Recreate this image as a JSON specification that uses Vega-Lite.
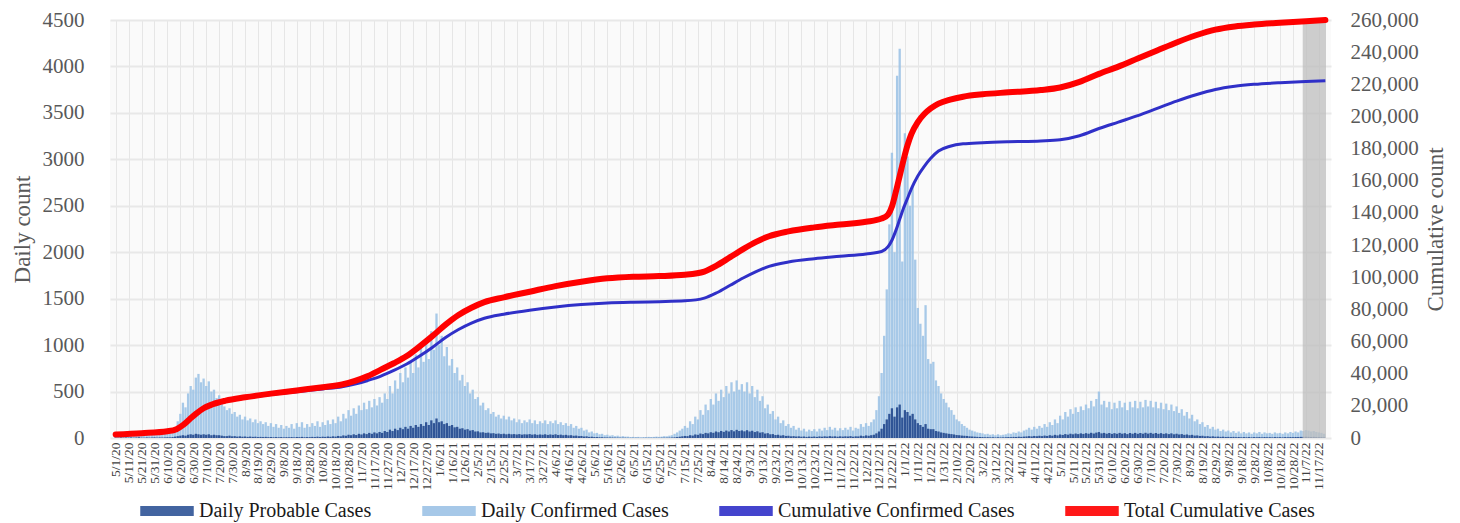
{
"$schema": "https://vega.github.io/schema/vega-lite/v6.json",
"width": 1221, "height": 418,
"autosize": {"type": "none"},
"padding": {"left": 110, "top": 20, "right": 129, "bottom": 85},
"background": "white",
"config": {"view": {"stroke": null, "fill": "#fafafa"}, "font": "Liberation Serif"},
"datasets": {
"daily": [
{"i":0,"c":30,"p":4},{"i":2,"c":25,"p":3},{"i":4,"c":40,"p":6},{"i":6,"c":20,"p":3},{"i":8,"c":35,"p":5},{"i":10,"c":30,"p":4},{"i":12,"c":45,"p":6},{"i":14,"c":25,"p":3},{"i":16,"c":30,"p":5},{"i":18,"c":55,"p":8},
{"i":20,"c":30,"p":4},{"i":22,"c":25,"p":3},{"i":24,"c":40,"p":6},{"i":26,"c":30,"p":4},{"i":28,"c":35,"p":5},{"i":30,"c":50,"p":7},{"i":32,"c":30,"p":4},{"i":34,"c":40,"p":6},{"i":36,"c":35,"p":5},{"i":38,"c":45,"p":6},
{"i":40,"c":60,"p":8},{"i":42,"c":50,"p":7},{"i":44,"c":70,"p":10},{"i":46,"c":110,"p":15},{"i":48,"c":180,"p":20},{"i":50,"c":260,"p":25},{"i":52,"c":380,"p":30},{"i":54,"c":330,"p":25},{"i":56,"c":480,"p":35},{"i":58,"c":560,"p":40},
{"i":60,"c":520,"p":35},{"i":62,"c":650,"p":45},{"i":64,"c":690,"p":40},{"i":66,"c":600,"p":35},{"i":68,"c":640,"p":40},{"i":70,"c":560,"p":35},{"i":72,"c":610,"p":40},{"i":74,"c":500,"p":30},{"i":76,"c":520,"p":35},{"i":78,"c":430,"p":30},
{"i":80,"c":460,"p":30},{"i":82,"c":380,"p":25},{"i":84,"c":340,"p":20},{"i":86,"c":300,"p":20},{"i":88,"c":320,"p":25},{"i":90,"c":260,"p":18},{"i":92,"c":280,"p":20},{"i":94,"c":230,"p":15},{"i":96,"c":250,"p":18},{"i":98,"c":200,"p":14},
{"i":100,"c":230,"p":16},{"i":102,"c":190,"p":12},{"i":104,"c":210,"p":15},{"i":106,"c":170,"p":12},{"i":108,"c":200,"p":14},{"i":110,"c":160,"p":10},{"i":112,"c":180,"p":12},{"i":114,"c":150,"p":10},{"i":116,"c":170,"p":12},{"i":118,"c":130,"p":9},
{"i":120,"c":160,"p":11},{"i":122,"c":120,"p":8},{"i":124,"c":150,"p":10},{"i":126,"c":110,"p":8},{"i":128,"c":140,"p":10},{"i":130,"c":100,"p":7},{"i":132,"c":130,"p":9},{"i":134,"c":110,"p":8},{"i":136,"c":150,"p":10},{"i":138,"c":100,"p":7},
{"i":140,"c":160,"p":11},{"i":142,"c":120,"p":9},{"i":144,"c":170,"p":12},{"i":146,"c":110,"p":8},{"i":148,"c":150,"p":10},{"i":150,"c":120,"p":9},{"i":152,"c":160,"p":12},{"i":154,"c":130,"p":10},{"i":156,"c":180,"p":14},{"i":158,"c":120,"p":10},
{"i":160,"c":170,"p":14},{"i":162,"c":140,"p":12},{"i":164,"c":190,"p":16},{"i":166,"c":150,"p":13},{"i":168,"c":200,"p":18},{"i":170,"c":160,"p":15},{"i":172,"c":230,"p":22},{"i":174,"c":180,"p":18},{"i":176,"c":260,"p":28},{"i":178,"c":210,"p":24},
{"i":180,"c":300,"p":35},{"i":182,"c":240,"p":30},{"i":184,"c":320,"p":40},{"i":186,"c":260,"p":32},{"i":188,"c":350,"p":45},{"i":190,"c":300,"p":38},{"i":192,"c":380,"p":50},{"i":194,"c":310,"p":42},{"i":196,"c":400,"p":55},{"i":198,"c":330,"p":45},
{"i":200,"c":420,"p":60},{"i":202,"c":350,"p":50},{"i":204,"c":440,"p":65},{"i":206,"c":380,"p":55},{"i":208,"c":480,"p":75},{"i":210,"c":420,"p":65},{"i":212,"c":560,"p":90},{"i":214,"c":480,"p":75},{"i":216,"c":620,"p":100},{"i":218,"c":530,"p":85},
{"i":220,"c":700,"p":110},{"i":222,"c":600,"p":95},{"i":224,"c":760,"p":120},{"i":226,"c":650,"p":100},{"i":228,"c":820,"p":130},{"i":230,"c":700,"p":110},{"i":232,"c":900,"p":140},{"i":234,"c":760,"p":120},{"i":236,"c":980,"p":150},{"i":238,"c":820,"p":130},
{"i":240,"c":1050,"p":170},{"i":242,"c":850,"p":140},{"i":244,"c":1150,"p":190},{"i":246,"c":950,"p":160},{"i":248,"c":1340,"p":210},{"i":250,"c":1000,"p":170},{"i":252,"c":1100,"p":180},{"i":254,"c":880,"p":150},{"i":256,"c":980,"p":160},{"i":258,"c":780,"p":130},
{"i":260,"c":850,"p":140},{"i":262,"c":700,"p":115},{"i":264,"c":760,"p":120},{"i":266,"c":620,"p":100},{"i":268,"c":680,"p":105},{"i":270,"c":560,"p":90},{"i":272,"c":600,"p":95},{"i":274,"c":480,"p":80},{"i":276,"c":520,"p":85},{"i":278,"c":420,"p":70},
{"i":280,"c":440,"p":72},{"i":282,"c":350,"p":60},{"i":284,"c":380,"p":62},{"i":286,"c":300,"p":55},{"i":288,"c":320,"p":58},{"i":290,"c":260,"p":50},{"i":292,"c":280,"p":52},{"i":294,"c":230,"p":45},{"i":296,"c":250,"p":48},{"i":298,"c":210,"p":42},
{"i":300,"c":240,"p":46},{"i":302,"c":200,"p":40},{"i":304,"c":230,"p":45},{"i":306,"c":190,"p":40},{"i":308,"c":210,"p":42},{"i":310,"c":170,"p":38},{"i":312,"c":200,"p":42},{"i":314,"c":160,"p":36},{"i":316,"c":190,"p":40},{"i":318,"c":170,"p":38},
{"i":320,"c":200,"p":42},{"i":322,"c":160,"p":36},{"i":324,"c":190,"p":40},{"i":326,"c":150,"p":34},{"i":328,"c":180,"p":38},{"i":330,"c":160,"p":35},{"i":332,"c":190,"p":40},{"i":334,"c":150,"p":33},{"i":336,"c":180,"p":38},{"i":338,"c":160,"p":34},
{"i":340,"c":190,"p":40},{"i":342,"c":150,"p":32},{"i":344,"c":170,"p":36},{"i":346,"c":140,"p":30},{"i":348,"c":160,"p":34},{"i":350,"c":130,"p":28},{"i":352,"c":150,"p":30},{"i":354,"c":110,"p":24},{"i":356,"c":130,"p":26},{"i":358,"c":100,"p":20},
{"i":360,"c":110,"p":22},{"i":362,"c":80,"p":16},{"i":364,"c":90,"p":18},{"i":366,"c":60,"p":12},{"i":368,"c":70,"p":14},{"i":370,"c":50,"p":10},{"i":372,"c":55,"p":10},{"i":374,"c":40,"p":8},{"i":376,"c":45,"p":8},{"i":378,"c":30,"p":6},
{"i":380,"c":35,"p":6},{"i":382,"c":25,"p":5},{"i":384,"c":30,"p":5},{"i":386,"c":20,"p":4},{"i":388,"c":25,"p":4},{"i":390,"c":15,"p":3},{"i":392,"c":20,"p":3},{"i":394,"c":15,"p":3},{"i":396,"c":15,"p":2},{"i":398,"c":10,"p":2},
{"i":400,"c":12,"p":2},{"i":402,"c":10,"p":2},{"i":404,"c":12,"p":2},{"i":406,"c":8,"p":1},{"i":408,"c":10,"p":2},{"i":410,"c":10,"p":2},{"i":412,"c":12,"p":2},{"i":414,"c":10,"p":2},{"i":416,"c":12,"p":2},{"i":418,"c":15,"p":3},
{"i":420,"c":12,"p":2},{"i":422,"c":15,"p":3},{"i":424,"c":20,"p":3},{"i":426,"c":18,"p":3},{"i":428,"c":25,"p":4},{"i":430,"c":30,"p":5},{"i":432,"c":45,"p":7},{"i":434,"c":60,"p":10},{"i":436,"c":80,"p":14},{"i":438,"c":100,"p":18},
{"i":440,"c":130,"p":22},{"i":442,"c":110,"p":20},{"i":444,"c":180,"p":30},{"i":446,"c":150,"p":26},{"i":448,"c":230,"p":38},{"i":450,"c":200,"p":34},{"i":452,"c":300,"p":48},{"i":454,"c":250,"p":42},{"i":456,"c":360,"p":55},{"i":458,"c":300,"p":50},
{"i":460,"c":420,"p":62},{"i":462,"c":360,"p":56},{"i":464,"c":480,"p":70},{"i":466,"c":400,"p":62},{"i":468,"c":520,"p":76},{"i":470,"c":440,"p":66},{"i":472,"c":560,"p":80},{"i":474,"c":480,"p":70},{"i":476,"c":600,"p":85},{"i":478,"c":500,"p":72},
{"i":480,"c":620,"p":88},{"i":482,"c":520,"p":75},{"i":484,"c":580,"p":82},{"i":486,"c":500,"p":72},{"i":488,"c":600,"p":84},{"i":490,"c":480,"p":70},{"i":492,"c":560,"p":78},{"i":494,"c":440,"p":64},{"i":496,"c":520,"p":72},{"i":498,"c":400,"p":58},
{"i":500,"c":450,"p":62},{"i":502,"c":320,"p":48},{"i":504,"c":360,"p":52},{"i":506,"c":260,"p":40},{"i":508,"c":290,"p":42},{"i":510,"c":200,"p":32},{"i":512,"c":230,"p":35},{"i":514,"c":160,"p":26},{"i":516,"c":190,"p":30},{"i":518,"c":130,"p":22},
{"i":520,"c":150,"p":24},{"i":522,"c":110,"p":18},{"i":524,"c":130,"p":20},{"i":526,"c":90,"p":16},{"i":528,"c":110,"p":18},{"i":530,"c":80,"p":14},{"i":532,"c":100,"p":16},{"i":534,"c":70,"p":12},{"i":536,"c":90,"p":15},{"i":538,"c":75,"p":13},
{"i":540,"c":95,"p":16},{"i":542,"c":70,"p":12},{"i":544,"c":100,"p":17},{"i":546,"c":80,"p":14},{"i":548,"c":110,"p":18},{"i":550,"c":85,"p":15},{"i":552,"c":120,"p":20},{"i":554,"c":90,"p":16},{"i":556,"c":110,"p":18},{"i":558,"c":80,"p":14},
{"i":560,"c":105,"p":18},{"i":562,"c":85,"p":15},{"i":564,"c":110,"p":18},{"i":566,"c":90,"p":16},{"i":568,"c":120,"p":20},{"i":570,"c":80,"p":14},{"i":572,"c":110,"p":18},{"i":574,"c":100,"p":17},{"i":576,"c":150,"p":25},{"i":578,"c":120,"p":20},
{"i":580,"c":160,"p":28},{"i":582,"c":130,"p":24},{"i":584,"c":170,"p":30},{"i":586,"c":200,"p":35},{"i":588,"c":300,"p":50},{"i":590,"c":450,"p":70},{"i":592,"c":700,"p":100},{"i":594,"c":1100,"p":150},{"i":596,"c":1600,"p":200},{"i":598,"c":2300,"p":260},
{"i":600,"c":3070,"p":320},{"i":602,"c":2000,"p":230},{"i":604,"c":3900,"p":330},{"i":606,"c":4190,"p":360},{"i":608,"c":1900,"p":220},{"i":610,"c":3280,"p":300},{"i":612,"c":3030,"p":280},{"i":614,"c":2500,"p":240},{"i":616,"c":2700,"p":260},{"i":618,"c":1920,"p":200},
{"i":620,"c":1400,"p":160},{"i":622,"c":1230,"p":140},{"i":624,"c":1100,"p":120},{"i":626,"c":1430,"p":150},{"i":628,"c":850,"p":100},{"i":630,"c":800,"p":95},{"i":632,"c":820,"p":95},{"i":634,"c":620,"p":75},{"i":636,"c":560,"p":70},{"i":638,"c":480,"p":60},
{"i":640,"c":420,"p":55},{"i":642,"c":380,"p":50},{"i":644,"c":330,"p":45},{"i":646,"c":300,"p":42},{"i":648,"c":250,"p":38},{"i":650,"c":200,"p":32},{"i":652,"c":180,"p":30},{"i":654,"c":150,"p":26},{"i":656,"c":130,"p":24},{"i":658,"c":110,"p":22},
{"i":660,"c":90,"p":18},{"i":662,"c":80,"p":16},{"i":664,"c":70,"p":14},{"i":666,"c":60,"p":12},{"i":668,"c":55,"p":11},{"i":670,"c":50,"p":10},{"i":672,"c":40,"p":8},{"i":674,"c":45,"p":9},{"i":676,"c":35,"p":7},{"i":678,"c":40,"p":8},
{"i":680,"c":30,"p":6},{"i":682,"c":40,"p":8},{"i":684,"c":30,"p":6},{"i":686,"c":35,"p":7},{"i":688,"c":40,"p":8},{"i":690,"c":50,"p":10},{"i":692,"c":45,"p":9},{"i":694,"c":60,"p":12},{"i":696,"c":55,"p":11},{"i":698,"c":70,"p":14},
{"i":700,"c":60,"p":12},{"i":702,"c":80,"p":15},{"i":704,"c":90,"p":17},{"i":706,"c":110,"p":20},{"i":708,"c":90,"p":17},{"i":710,"c":120,"p":22},{"i":712,"c":100,"p":19},{"i":714,"c":130,"p":24},{"i":716,"c":110,"p":20},{"i":718,"c":150,"p":26},
{"i":720,"c":120,"p":22},{"i":722,"c":170,"p":30},{"i":724,"c":140,"p":25},{"i":726,"c":200,"p":34},{"i":728,"c":160,"p":28},{"i":730,"c":240,"p":38},{"i":732,"c":200,"p":33},{"i":734,"c":280,"p":42},{"i":736,"c":230,"p":36},{"i":738,"c":310,"p":46},
{"i":740,"c":260,"p":40},{"i":742,"c":330,"p":48},{"i":744,"c":280,"p":42},{"i":746,"c":340,"p":50},{"i":748,"c":300,"p":44},{"i":750,"c":360,"p":52},{"i":752,"c":320,"p":46},{"i":754,"c":400,"p":56},{"i":756,"c":340,"p":48},{"i":758,"c":420,"p":58},
{"i":760,"c":500,"p":64},{"i":762,"c":360,"p":50},{"i":764,"c":400,"p":55},{"i":766,"c":330,"p":46},{"i":768,"c":390,"p":54},{"i":770,"c":310,"p":44},{"i":772,"c":380,"p":52},{"i":774,"c":320,"p":45},{"i":776,"c":400,"p":55},{"i":778,"c":330,"p":46},
{"i":780,"c":380,"p":52},{"i":782,"c":300,"p":42},{"i":784,"c":390,"p":54},{"i":786,"c":330,"p":46},{"i":788,"c":400,"p":55},{"i":790,"c":320,"p":45},{"i":792,"c":390,"p":54},{"i":794,"c":330,"p":46},{"i":796,"c":410,"p":56},{"i":798,"c":340,"p":47},
{"i":800,"c":400,"p":55},{"i":802,"c":330,"p":46},{"i":804,"c":390,"p":54},{"i":806,"c":320,"p":45},{"i":808,"c":380,"p":52},{"i":810,"c":310,"p":44},{"i":812,"c":370,"p":50},{"i":814,"c":300,"p":42},{"i":816,"c":360,"p":50},{"i":818,"c":290,"p":40},
{"i":820,"c":340,"p":46},{"i":822,"c":270,"p":38},{"i":824,"c":310,"p":42},{"i":826,"c":240,"p":34},{"i":828,"c":280,"p":38},{"i":830,"c":210,"p":30},{"i":832,"c":250,"p":34},{"i":834,"c":180,"p":26},{"i":836,"c":200,"p":28},{"i":838,"c":150,"p":22},
{"i":840,"c":170,"p":24},{"i":842,"c":120,"p":18},{"i":844,"c":140,"p":20},{"i":846,"c":100,"p":15},{"i":848,"c":120,"p":18},{"i":850,"c":90,"p":14},{"i":852,"c":100,"p":15},{"i":854,"c":75,"p":12},{"i":856,"c":90,"p":14},{"i":858,"c":70,"p":11},
{"i":860,"c":80,"p":12},{"i":862,"c":60,"p":10},{"i":864,"c":75,"p":12},{"i":866,"c":55,"p":9},{"i":868,"c":70,"p":11},{"i":870,"c":50,"p":8},{"i":872,"c":65,"p":10},{"i":874,"c":50,"p":8},{"i":876,"c":60,"p":10},{"i":878,"c":45,"p":7},
{"i":880,"c":60,"p":10},{"i":882,"c":50,"p":8},{"i":884,"c":65,"p":10},{"i":886,"c":45,"p":7},{"i":888,"c":60,"p":10},{"i":890,"c":50,"p":8},{"i":892,"c":55,"p":9},{"i":894,"c":45,"p":7},{"i":896,"c":60,"p":10},{"i":898,"c":50,"p":8},
{"i":900,"c":55,"p":9},{"i":902,"c":45,"p":7},{"i":904,"c":60,"p":10},{"i":906,"c":50,"p":8},{"i":908,"c":65,"p":10},{"i":910,"c":55,"p":9},{"i":912,"c":70,"p":11},{"i":914,"c":60,"p":10},{"i":916,"c":80,"p":12},{"i":918,"c":75,"p":12},
{"i":920,"c":85,"p":13},{"i":922,"c":80,"p":12},{"i":924,"c":70,"p":11},{"i":926,"c":75,"p":12},{"i":928,"c":65,"p":10},{"i":930,"c":60,"p":9},{"i":932,"c":55,"p":9},{"i":934,"c":45,"p":7}
],
"cum": [
{"i":0,"cc":2200,"tc":2200},{"i":20,"cc":3000,"tc":3000},{"i":40,"cc":4100,"tc":4200},{"i":47,"cc":5300,"tc":5500},{"i":52,"cc":7800,"tc":8000},{"i":57,"cc":11200,"tc":11500},{"i":62,"cc":14600,"tc":15000},{"i":68,"cc":18000,"tc":18500},{"i":75,"cc":20500,"tc":21000},{"i":85,"cc":22700,"tc":23200},
{"i":100,"cc":24800,"tc":25300},{"i":120,"cc":27000,"tc":27600},{"i":140,"cc":28800,"tc":29600},{"i":160,"cc":30500,"tc":31600},{"i":175,"cc":31800,"tc":33300},{"i":185,"cc":33500,"tc":35500},{"i":195,"cc":35800,"tc":38500},{"i":205,"cc":38500,"tc":42500},{"i":215,"cc":42000,"tc":46500},{"i":225,"cc":46000,"tc":51000},
{"i":235,"cc":51000,"tc":57000},{"i":245,"cc":56500,"tc":63500},{"i":255,"cc":62500,"tc":70500},{"i":265,"cc":67500,"tc":76500},{"i":275,"cc":71500,"tc":81000},{"i":285,"cc":74500,"tc":84500},{"i":300,"cc":77000,"tc":87500},{"i":320,"cc":79500,"tc":91000},{"i":340,"cc":81500,"tc":94500},{"i":360,"cc":83000,"tc":97200},
{"i":380,"cc":84000,"tc":99300},{"i":400,"cc":84500,"tc":100300},{"i":420,"cc":84800,"tc":100700},{"i":440,"cc":85300,"tc":101500},{"i":455,"cc":87000,"tc":103500},{"i":465,"cc":90500,"tc":107500},{"i":475,"cc":95000,"tc":112500},{"i":485,"cc":99500,"tc":117500},{"i":495,"cc":103500,"tc":122000},{"i":505,"cc":106800,"tc":125500},
{"i":520,"cc":109500,"tc":128500},{"i":540,"cc":111500,"tc":131000},{"i":560,"cc":113000,"tc":132800},{"i":580,"cc":114500,"tc":134500},{"i":592,"cc":116000,"tc":136500},{"i":597,"cc":119000,"tc":139000},{"i":600,"cc":123000,"tc":144000},{"i":603,"cc":129000,"tc":153000},{"i":606,"cc":136000,"tc":163000},{"i":609,"cc":143000,"tc":173000},
{"i":612,"cc":149000,"tc":182000},{"i":615,"cc":155000,"tc":189000},{"i":620,"cc":163000,"tc":196500},{"i":625,"cc":169000,"tc":201500},{"i":630,"cc":174000,"tc":205000},{"i":636,"cc":178500,"tc":208000},{"i":645,"cc":181500,"tc":210500},{"i":655,"cc":183000,"tc":212300},{"i":670,"cc":183700,"tc":213800},{"i":690,"cc":184300,"tc":215000},
{"i":715,"cc":184800,"tc":216400},{"i":730,"cc":185500,"tc":218000},{"i":745,"cc":188000,"tc":221500},{"i":760,"cc":192500,"tc":226500},{"i":775,"cc":196500,"tc":231000},{"i":790,"cc":200500,"tc":236000},{"i":805,"cc":205000,"tc":241000},{"i":820,"cc":209500,"tc":246000},{"i":835,"cc":213500,"tc":250500},{"i":850,"cc":216800,"tc":254000},
{"i":865,"cc":218800,"tc":256000},{"i":880,"cc":220000,"tc":257200},{"i":900,"cc":221000,"tc":258300},{"i":920,"cc":221700,"tc":259200},{"i":935,"cc":222200,"tc":260000}
],
"shade": [{"s":917.5,"e":935.5}]
},
"layer": [
{
"layer": [
{"data": {"name": "daily"}, "mark": {"type": "bar", "size": 2.3, "opacity": 0.9},
 "encoding": {
  "x": {"field": "i", "type": "quantitative", "scale": {"domain": [-0.5, 935.5], "nice": false, "zero": false},
   "axis": {"title": null, "values": [0,10,20,30,40,50,60,70,80,90,100,110,120,130,140,150,160,170,180,190,200,210,220,230,240,250,260,270,280,290,300,310,320,330,340,350,360,370,380,390,400,410,420,430,440,450,460,470,480,490,500,510,520,530,540,550,560,570,580,590,600,610,620,630,640,650,660,670,680,690,700,710,720,730,740,750,760,770,780,790,800,810,820,830,840,850,860,870,880,890,900,910,920,930],
    "labelExpr": "timeFormat(datetime(2020, 4, 1 + datum.value), '%-m/%-d/%y')",
    "labelAngle": 270, "labelAlign": "right", "labelBaseline": "middle", "labelFontSize": 13.5, "labelColor": "#404040", "labelPadding": 4, "labelOverlap": false, "labelBound": false, "labelFlush": false,
    "ticks": false, "domain": false, "grid": true, "gridColor": "#e6e6e6", "gridWidth": 1}},
  "y": {"field": "c", "type": "quantitative", "scale": {"domain": [0, 4500], "nice": false},
   "axis": {"title": "Daily count", "values": [0,500,1000,1500,2000,2500,3000,3500,4000,4500], "format": "d", "labelFontSize": 21, "labelColor": "#595959", "labelPadding": 26, "titleFontSize": 23, "titleFontWeight": "normal", "titleColor": "#595959", "titlePadding": 8, "ticks": false, "domain": false, "grid": true, "gridColor": "#e8e8e8", "gridWidth": 2}},
  "color": {"datum": "Daily Confirmed Cases",
   "scale": {"domain": ["Daily Probable Cases", "Daily Confirmed Cases", "Cumulative Confirmed Cases", "Total Cumulative Cases"], "range": ["#2f5496", "#9dc3e6", "#3030c8", "#ff0000"]},
   "legend": {"orient": "none", "legendX": 30, "legendY": 464, "direction": "horizontal", "title": null, "labelFontSize": 20, "labelFont": "Liberation Serif", "labelColor": "#1a1a1a", "columnPadding": 48, "symbolSize": 2704, "labelOffset": 5, "labelLimit": 400,
    "symbolType": "M-1,-0.16H1V0.16H-1Z",
    "encode": {"symbols": {
     "shape": {"value": {"expr": "datum.value == 'Total Cumulative Cases' ? 'M-1,-0.12H1V0.12H-1Z' : (datum.value == 'Cumulative Confirmed Cases' ? 'M-1,-0.06H1V0.06H-1Z' : 'M-1,-0.19H1V0.19H-1Z')"}},
     "fill": {"value": {"expr": "scale('color', datum.value)"}},
     "stroke": {"value": "transparent"}, "opacity": {"value": 1}, "fillOpacity": {"value": 1}}}}}
 }},
{"data": {"name": "daily"}, "mark": {"type": "bar", "size": 2.3},
 "encoding": {
  "x": {"field": "i", "type": "quantitative",
   "axis": {"title": null, "values": [0,10,20,30,40,50,60,70,80,90,100,110,120,130,140,150,160,170,180,190,200,210,220,230,240,250,260,270,280,290,300,310,320,330,340,350,360,370,380,390,400,410,420,430,440,450,460,470,480,490,500,510,520,530,540,550,560,570,580,590,600,610,620,630,640,650,660,670,680,690,700,710,720,730,740,750,760,770,780,790,800,810,820,830,840,850,860,870,880,890,900,910,920,930],
    "labelExpr": "timeFormat(datetime(2020, 4, 1 + datum.value), '%-m/%-d/%y')",
    "labelAngle": 270, "labelAlign": "right", "labelBaseline": "middle", "labelFontSize": 13.5, "labelColor": "#404040", "labelPadding": 4, "labelOverlap": false, "labelBound": false, "labelFlush": false,
    "ticks": false, "domain": false, "grid": true, "gridColor": "#e6e6e6", "gridWidth": 1}},
  "y": {"field": "p", "type": "quantitative",
   "axis": {"title": "Daily count", "values": [0,500,1000,1500,2000,2500,3000,3500,4000,4500], "format": "d", "labelFontSize": 21, "labelColor": "#595959", "labelPadding": 26, "titleFontSize": 23, "titleFontWeight": "normal", "titleColor": "#595959", "titlePadding": 8, "ticks": false, "domain": false, "grid": true, "gridColor": "#e8e8e8", "gridWidth": 2}},
  "color": {"datum": "Daily Probable Cases"}
 }},
{"data": {"name": "shade"}, "mark": {"type": "rect", "color": "#bdbdbd", "opacity": 0.75},
 "encoding": {
  "x": {"field": "s", "type": "quantitative",
   "axis": {"title": null, "values": [0,10,20,30,40,50,60,70,80,90,100,110,120,130,140,150,160,170,180,190,200,210,220,230,240,250,260,270,280,290,300,310,320,330,340,350,360,370,380,390,400,410,420,430,440,450,460,470,480,490,500,510,520,530,540,550,560,570,580,590,600,610,620,630,640,650,660,670,680,690,700,710,720,730,740,750,760,770,780,790,800,810,820,830,840,850,860,870,880,890,900,910,920,930],
    "labelExpr": "timeFormat(datetime(2020, 4, 1 + datum.value), '%-m/%-d/%y')",
    "labelAngle": 270, "labelAlign": "right", "labelBaseline": "middle", "labelFontSize": 13.5, "labelColor": "#404040", "labelPadding": 4, "labelOverlap": false, "labelBound": false, "labelFlush": false,
    "ticks": false, "domain": false, "grid": true, "gridColor": "#e6e6e6", "gridWidth": 1}},
  "x2": {"field": "e"}
 }}
]
},
{
"layer": [
{"data": {"name": "cum"}, "mark": {"type": "line", "strokeWidth": 3, "interpolate": "monotone"},
 "encoding": {
  "x": {"field": "i", "type": "quantitative",
   "axis": {"title": null, "values": [0,10,20,30,40,50,60,70,80,90,100,110,120,130,140,150,160,170,180,190,200,210,220,230,240,250,260,270,280,290,300,310,320,330,340,350,360,370,380,390,400,410,420,430,440,450,460,470,480,490,500,510,520,530,540,550,560,570,580,590,600,610,620,630,640,650,660,670,680,690,700,710,720,730,740,750,760,770,780,790,800,810,820,830,840,850,860,870,880,890,900,910,920,930],
    "labelExpr": "timeFormat(datetime(2020, 4, 1 + datum.value), '%-m/%-d/%y')",
    "labelAngle": 270, "labelAlign": "right", "labelBaseline": "middle", "labelFontSize": 13.5, "labelColor": "#404040", "labelPadding": 4, "labelOverlap": false, "labelBound": false, "labelFlush": false,
    "ticks": false, "domain": false, "grid": true, "gridColor": "#e6e6e6", "gridWidth": 1}},
  "y": {"field": "cc", "type": "quantitative", "scale": {"domain": [0, 260000], "nice": false},
   "axis": {"orient": "right", "title": "Cumulative count", "values": [0,20000,40000,60000,80000,100000,120000,140000,160000,180000,200000,220000,240000,260000], "labelExpr": "format(datum.value, ',')", "labelFontSize": 21, "labelColor": "#595959", "labelPadding": 19, "titleFontSize": 23, "titleFontWeight": "normal", "titleColor": "#595959", "titleAngle": 270, "titlePadding": 29, "ticks": false, "domain": false, "grid": false}},
  "color": {"datum": "Cumulative Confirmed Cases"}
 }},
{"data": {"name": "cum"}, "mark": {"type": "line", "strokeWidth": 6, "interpolate": "monotone", "strokeCap": "round"},
 "encoding": {
  "x": {"field": "i", "type": "quantitative",
   "axis": {"title": null, "values": [0,10,20,30,40,50,60,70,80,90,100,110,120,130,140,150,160,170,180,190,200,210,220,230,240,250,260,270,280,290,300,310,320,330,340,350,360,370,380,390,400,410,420,430,440,450,460,470,480,490,500,510,520,530,540,550,560,570,580,590,600,610,620,630,640,650,660,670,680,690,700,710,720,730,740,750,760,770,780,790,800,810,820,830,840,850,860,870,880,890,900,910,920,930],
    "labelExpr": "timeFormat(datetime(2020, 4, 1 + datum.value), '%-m/%-d/%y')",
    "labelAngle": 270, "labelAlign": "right", "labelBaseline": "middle", "labelFontSize": 13.5, "labelColor": "#404040", "labelPadding": 4, "labelOverlap": false, "labelBound": false, "labelFlush": false,
    "ticks": false, "domain": false, "grid": true, "gridColor": "#e6e6e6", "gridWidth": 1}},
  "y": {"field": "tc", "type": "quantitative",
   "axis": {"orient": "right", "title": "Cumulative count", "values": [0,20000,40000,60000,80000,100000,120000,140000,160000,180000,200000,220000,240000,260000], "labelExpr": "format(datum.value, ',')", "labelFontSize": 21, "labelColor": "#595959", "labelPadding": 19, "titleFontSize": 23, "titleFontWeight": "normal", "titleColor": "#595959", "titleAngle": 270, "titlePadding": 29, "ticks": false, "domain": false, "grid": false}},
  "color": {"datum": "Total Cumulative Cases"}
 }}
]
}
],
"resolve": {"scale": {"y": "independent"}}
}
